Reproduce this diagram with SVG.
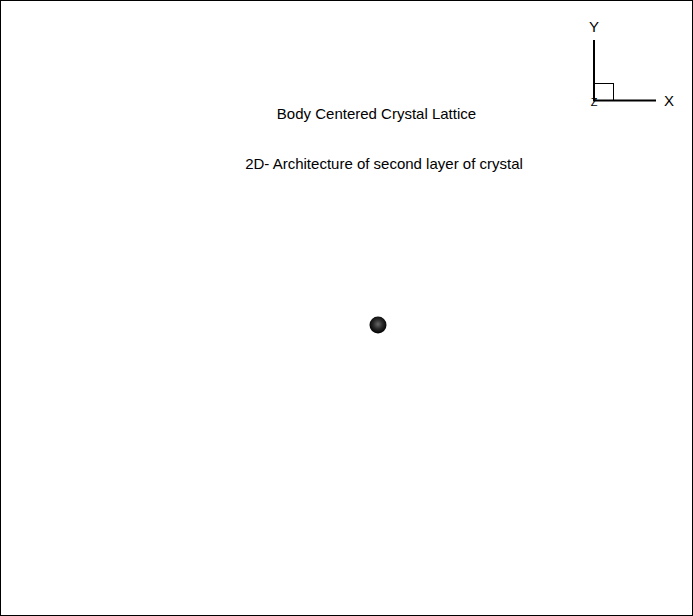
<svg xmlns="http://www.w3.org/2000/svg" width="693" height="616" viewBox="0 0 693 616">
<style>
text{font-family:"Liberation Sans",Arial,sans-serif;fill:#000}
.t{font-size:15px}
.ax{stroke:#000;stroke-width:2;fill:none}
</style>
<defs>
<radialGradient id="ball" cx="0.5" cy="0.45" r="0.55">
<stop offset="0" stop-color="#666"/>
<stop offset="0.5" stop-color="#2a2a2a"/>
<stop offset="1" stop-color="#000"/>
</radialGradient>
</defs>
<rect x="0.5" y="0.5" width="692" height="615" fill="#fff" stroke="#000" stroke-width="1"/>
<g id="axes">
<line class="ax" x1="594" y1="40" x2="594" y2="101"/>
<line class="ax" x1="593" y1="100.5" x2="656" y2="100.5"/>
<rect x="594.5" y="83.5" width="19" height="17" fill="none" stroke="#000" stroke-width="1"/>
<text x="594" y="32" class="t" text-anchor="middle">Y</text>
<text x="669" y="106" class="t" text-anchor="middle">X</text>
<text x="594" y="106" font-size="11" text-anchor="middle">Z</text>
</g>
<g id="title">
<text x="376.5" y="119" class="t" text-anchor="middle">Body Centered Crystal Lattice</text>
</g>
<g id="subtitle">
<text x="384" y="169" class="t" text-anchor="middle">2D- Architecture of second layer of crystal</text>
</g>
<g id="atom">
<circle cx="378" cy="325" r="8.5" fill="url(#ball)"/>
</g>
</svg>
